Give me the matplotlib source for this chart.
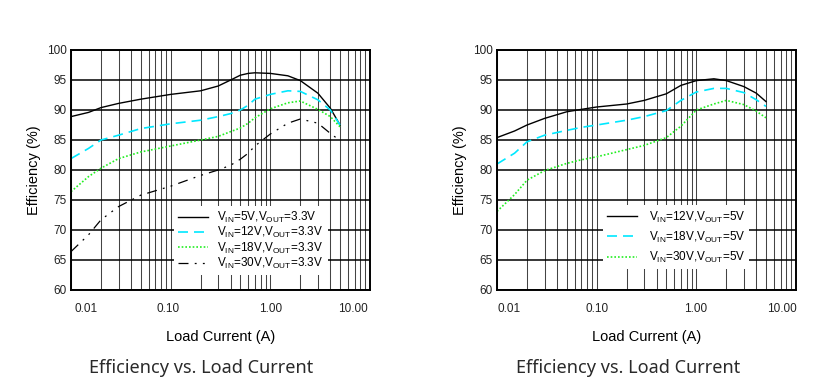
import matplotlib
matplotlib.use("Agg")
import matplotlib.pyplot as plt
import matplotlib.transforms as mtransforms
from matplotlib.ticker import FixedLocator, NullFormatter

plt.rcParams["font.family"] = ["Liberation Sans", "DejaVu Sans"]
plt.rcParams["mathtext.default"] = "regular"

# ---- data ----
x_33 = [0.01, 0.015, 0.02, 0.03, 0.05, 0.1, 0.2, 0.3, 0.4, 0.5, 0.6, 0.7,
        1.0, 1.5, 2.0, 3.0, 4.0, 5.0]
eff_5v_33 = [88.9, 89.6, 90.4, 91.1, 91.8, 92.6, 93.2, 94.0, 95.0, 95.8, 96.1, 96.2,
             96.1, 95.7, 94.9, 92.8, 90.3, 87.5]
eff_12v_33 = [81.9, 83.6, 85.0, 85.8, 86.9, 87.7, 88.3, 88.9, 89.4, 90.0, 90.8, 91.8,
              92.6, 93.2, 93.1, 91.7, 90.0, 87.5]
eff_18v_33 = [76.4, 78.9, 80.3, 81.9, 83.0, 84.0, 85.0, 85.6, 86.4, 87.0, 87.8, 88.7,
              90.2, 91.2, 91.5, 90.1, 88.9, 87.2]
eff_30v_33 = [66.4, 69.2, 71.7, 73.9, 75.8, 77.3, 79.1, 80.0, 80.8, 81.8, 82.8, 84.0,
              86.0, 87.8, 88.5, 87.8, 86.1, 84.9]

x_5 = [0.01, 0.015, 0.02, 0.03, 0.05, 0.07, 0.1, 0.2, 0.3, 0.5, 0.7, 1.0,
       1.5, 2.0, 3.0, 4.0, 5.0]
eff_12v_5 = [85.4, 86.5, 87.5, 88.6, 89.7, 90.1, 90.5, 91.0, 91.6, 92.7, 94.1, 94.9,
             95.2, 94.9, 93.9, 92.8, 91.4]
eff_18v_5 = [81.0, 82.8, 84.7, 85.8, 86.6, 87.1, 87.5, 88.3, 88.9, 89.9, 91.6, 93.0,
             93.6, 93.6, 92.9, 91.7, 90.6]
eff_30v_5 = [73.1, 75.9, 78.3, 79.9, 81.1, 81.7, 82.2, 83.4, 84.1, 85.4, 87.3, 90.0,
             91.0, 91.6, 90.9, 89.8, 88.7]

labels_33 = [r"V$_{IN}$=5V,V$_{OUT}$=3.3V", r"V$_{IN}$=12V,V$_{OUT}$=3.3V",
             r"V$_{IN}$=18V,V$_{OUT}$=3.3V", r"V$_{IN}$=30V,V$_{OUT}$=3.3V"]
labels_5 = [r"V$_{IN}$=12V,V$_{OUT}$=5V", r"V$_{IN}$=18V,V$_{OUT}$=5V",
            r"V$_{IN}$=30V,V$_{OUT}$=5V"]

x_ticks = [0.01, 0.1, 1, 10]
x_ticklabels = ["0.01", "0.10", "1.00", "10.00"]
y_ticks = [60, 65, 70, 75, 80, 85, 90, 95, 100]

STYLES = [
    dict(color="black", lw=1.0, ls="-"),
    dict(color="#00e8ff", lw=1.2, ls=(0, (6.0, 3.6))),
    dict(color="#22ee22", lw=1.2, ls=(0, (1.0, 1.2))),
    dict(color="black", lw=0.9, ls=(0, (8, 5, 1.5, 5, 1.5, 5))),
]

W, H = 837, 387
fig = plt.figure(figsize=(W / 100, H / 100), dpi=100)


def setup_axes(rect, label_offsets):
    ax = fig.add_axes(rect)
    ax.set_xscale("log")
    ax.set_xlim(0.01, 10)
    ax.set_ylim(60, 100)
    ax.set_yticks(y_ticks)
    ax.set_xticks(x_ticks)
    ax.set_xticklabels(x_ticklabels)
    minors = [m * d for d in (0.01, 0.1, 1) for m in range(2, 10)]
    ax.xaxis.set_minor_locator(FixedLocator(minors))
    ax.xaxis.set_minor_formatter(NullFormatter())
    ax.tick_params(which="both", length=0, labelsize=8.5, colors="#222222")
    ax.tick_params(axis="x", pad=9)
    ax.tick_params(axis="y", pad=3)
    # grid: vertical thin grey, horizontal black
    ax.grid(which="both", axis="x", color="#444444", lw=0.75)
    ax.grid(which="major", axis="y", color="black", lw=1.1)
    for s in ax.spines.values():
        s.set_linewidth(1.4)
        s.set_color("black")
    ax.set_xlabel("Load Current (A)", fontsize=10.5, labelpad=11)
    ax.set_ylabel("Efficiency (%)", fontsize=10.5, labelpad=4)
    for lab, dx in zip(ax.get_xticklabels(), label_offsets):
        lab.set_transform(lab.get_transform() +
                          mtransforms.ScaledTranslation(dx / 100, 0, fig.dpi_scale_trans))
    return ax


# left panel
ax1 = setup_axes([71 / W, 1 - 290 / H, 299 / W, 240 / H], [15, -3, 0, -17])
for y, lab, st in zip([eff_5v_33, eff_12v_33, eff_18v_33, eff_30v_33], labels_33, STYLES):
    ax1.plot(x_33, y, label=lab, **st)
leg1 = ax1.legend(loc="lower left", bbox_to_anchor=(0.345, 0.062), fontsize=8.5,
                  frameon=True, fancybox=False, edgecolor="none", framealpha=1,
                  handlelength=2.5, handletextpad=0.8, labelspacing=0.02,
                  borderpad=0.35, borderaxespad=0)
leg1.set_zorder(5)

# right panel
ax2 = setup_axes([497 / W, 1 - 290 / H, 299 / W, 240 / H], [12, 0, -1, -14])
for y, lab, st in zip([eff_12v_5, eff_18v_5, eff_30v_5], labels_5, STYLES):
    ax2.plot(x_5, y, label=lab, **st)
leg2 = ax2.legend(loc="lower left", bbox_to_anchor=(0.355, 0.088), fontsize=8.5,
                  frameon=True, fancybox=False, edgecolor="none", framealpha=1,
                  handlelength=2.5, handletextpad=1.0, labelspacing=0.42,
                  borderpad=0.35, borderaxespad=0)
leg2.set_zorder(5)

for xc in (201, 628):
    fig.text(xc / W, 1 - 368 / H, "Efficiency vs. Load Current", ha="center", va="center",
             fontsize=13, color="#2a2a2a", family=["Noto Sans", "DejaVu Sans"])

fig.savefig("out.png", dpi=100)
